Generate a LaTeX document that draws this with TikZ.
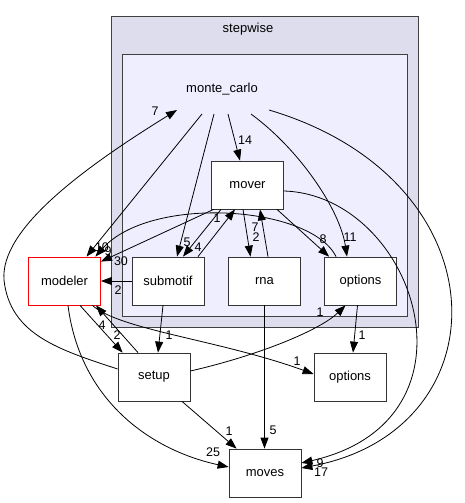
\documentclass[tikz,border=0pt]{standalone}
\usepackage{fontspec}
\setmainfont{Liberation Sans}
\usetikzlibrary{arrows.meta}
\definecolor{outerfill}{HTML}{DDDDEE}
\definecolor{innerfill}{HTML}{EEEEFF}
\definecolor{bord}{HTML}{404040}
\begin{document}
\begin{tikzpicture}[x=1pt,y=-1pt,font=\fontsize{13}{15}\selectfont,
  box/.style={draw=black!80,fill=white,line width=0.8pt,minimum width=72pt,minimum height=48pt,inner sep=0pt},
  redbox/.style={box,draw=red},
  edge/.style={draw=black,line width=0.8pt,-{Triangle[length=11pt,width=8pt]}},
  lbl/.style={inner sep=0pt,font=\fontsize{12.5}{14}\selectfont},
  cluster/.style={draw=bord,line width=0.8pt}]
\useasboundingbox (0,0) rectangle (464,503);
% clusters
\draw[cluster,fill=outerfill] (111.5,16) rectangle (418,327);
\node (stepwise) at (248,29) {stepwise};
\draw[cluster,fill=innerfill] (122,54) rectangle (407,316);
\node (mc) at (222,89) {monte\_carlo};
\coordinate (mcA) at (202,114);
\coordinate (mcB) at (214,114);
\coordinate (mcC) at (228,114);
\coordinate (mcD) at (251,114);
\coordinate (mcE) at (269,110);
\coordinate (mcIn) at (177,110);
% nodes
\node[box] (mover) at (247.5,185) {mover};
\node[box] (rna) at (264.5,281) {rna};
\node[box] (optin) at (360.5,281) {options};
\node[box] (submotif) at (168,281) {submotif};
\node[redbox] (modeler) at (64.5,281) {modeler};
\node[box] (setup) at (154,377) {setup};
\node[box] (optout) at (350,377) {options};
\node[box] (moves) at (265,473) {moves};
% edges from monte_carlo
\draw[edge] (mcA) -- ([xshift=22pt]modeler.north);
\draw[edge] (mcB) -- ([xshift=9pt]submotif.north);
\draw[edge] (mcC) -- ([xshift=-7.5pt]mover.north);
\draw[edge] (mcD) .. controls (300,150) and (340,210) .. ([xshift=-13.5pt]optin.north);
\draw[edge] (mcE) .. controls (505,180) and (505,430) .. ([yshift=5pt]moves.east);
% inner edges
\draw[edge] ([xshift=12pt]optin.north west) .. controls (310,205) and (150,195) .. ([xshift=-5.5pt]modeler.north east);
\draw[edge] ([xshift=2.5pt]mover.south west) -- ([yshift=-5pt]modeler.north east);
\draw[edge] ([xshift=-26.5pt]mover.south) -- ([xshift=15pt]submotif.north);
\draw[edge] ([xshift=30pt]submotif.north) -- ([xshift=-12.5pt]mover.south);
\draw[edge] ([xshift=-4.5pt]mover.south) -- ([xshift=-14pt]rna.north);
\draw[edge] ([xshift=3.5pt]rna.north) -- ([xshift=12.5pt]mover.south);
\draw[edge] ([xshift=29.5pt]mover.south) -- ([xshift=5pt]optin.north west);
\draw[edge] ([yshift=-6pt]mover.east) .. controls (415,195) and (490,420) .. ([yshift=10pt]moves.east);
\draw[edge] (submotif.west) -- (modeler.east);
\draw[edge] ([xshift=-5pt]submotif.south) -- ([xshift=4pt]setup.north);
\draw[edge] ([xshift=15.5pt]modeler.south) -- ([xshift=5pt]setup.north west);
\draw[edge] ([xshift=-16pt]setup.north) -- ([xshift=31.5pt]modeler.south);
\draw[edge] ([xshift=-8.5pt]modeler.south east) .. controls (120,330) and (220,340) .. ([yshift=3pt]optout.west);
\draw[edge] ([xshift=3.5pt]modeler.south) .. controls (80,400) and (150,450) .. ([yshift=6pt]moves.west);
\draw[edge] ([yshift=8pt]setup.west) .. controls (60,350) and (10,335) .. (4,280) .. controls (0,230) and (80,170) .. (mcIn);
\draw[edge] ([yshift=6pt]setup.east) .. controls (260,355) and (320,330) .. ([xshift=-15pt]optin.south);
\draw[edge] ([xshift=28pt]setup.south) -- ([xshift=8pt]moves.north west);
\draw[edge] ([xshift=-3pt]optin.south) -- ([xshift=3pt]optout.north);
\draw[edge] (rna.south) -- (rna.south |- moves.north);
% labels
\node[lbl] at (155,111) {7};
\node[lbl] at (102,247) {10};
\node[lbl] at (108,251) {9};
\node[lbl] at (121,261) {30};
\node[lbl] at (187,242) {5};
\node[lbl] at (198,247) {4};
\node[lbl] at (217,218) {1};
\node[lbl] at (245,140) {14};
\node[lbl] at (255,227) {7};
\node[lbl] at (256,237) {2};
\node[lbl] at (323,239) {8};
\node[lbl] at (350,237) {11};
\node[lbl] at (320,463) {9};
\node[lbl] at (321,472) {17};
\node[lbl] at (118,290) {2};
\node[lbl] at (169,335) {1};
\node[lbl] at (117,335) {2};
\node[lbl] at (102,325) {4};
\node[lbl] at (297,361) {1};
\node[lbl] at (213,452) {25};
\node[lbl] at (320,312) {1};
\node[lbl] at (229,431) {1};
\node[lbl] at (362,335) {1};
\node[lbl] at (273,430) {5};
\end{tikzpicture}
\end{document}
